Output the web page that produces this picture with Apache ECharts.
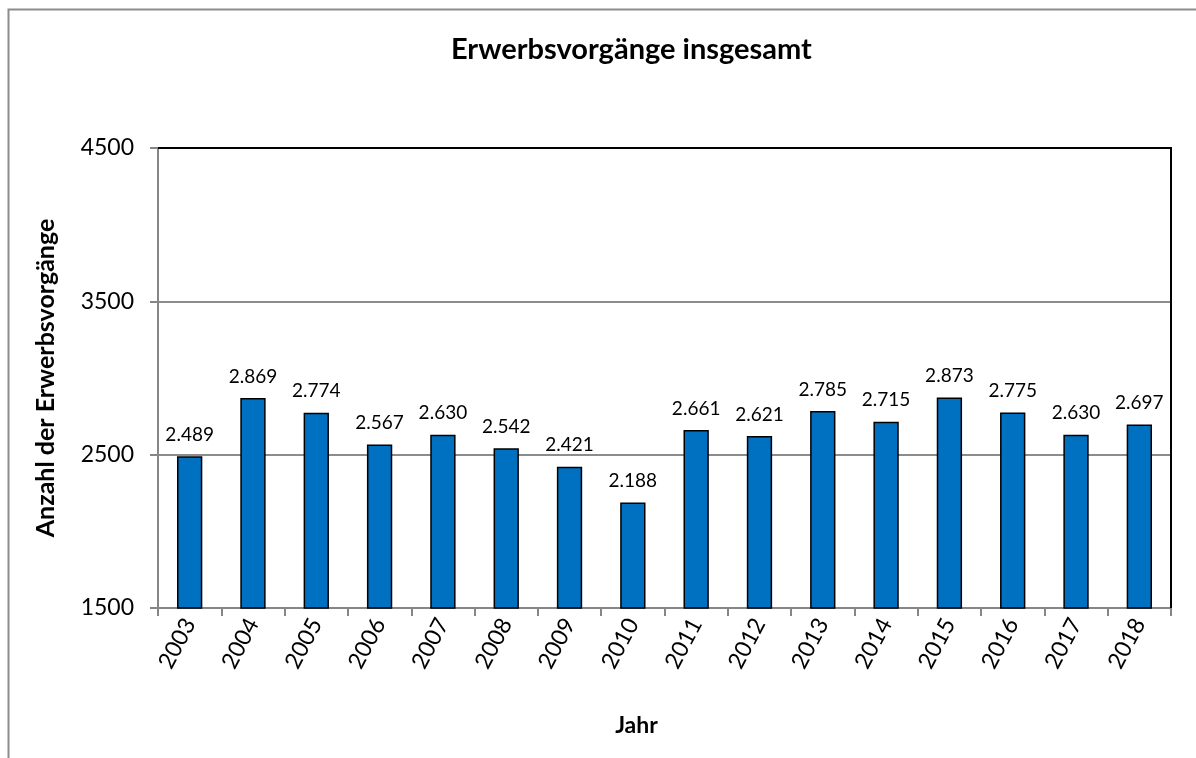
<!DOCTYPE html>
<html>
<head>
<meta charset="utf-8">
<script src="https://cdn.jsdelivr.net/npm/echarts@6/dist/echarts.min.js"></script>
<style>
  html, body { margin: 0; padding: 0; background: #fff; }
  #chart { width: 1196px; height: 758px; }
</style>
</head>
<body>
<div id="chart"></div>
<script>
// Werte aus dem Diagramm
const jahre = ['2003', '2004', '2005', '2006', '2007', '2008', '2009', '2010',
  '2011', '2012', '2013', '2014', '2015', '2016', '2017', '2018'];
const erwerbsvorgaenge = [2489, 2869, 2774, 2567, 2630, 2542, 2421, 2188,
  2661, 2621, 2785, 2715, 2873, 2775, 2630, 2697];
const yMin = 1500;
const yMax = 4500;
const yStep = 1000;

const font = 'Lato, "Open Sans", sans-serif';
const chart = echarts.init(document.getElementById('chart'));

// deutsches Tausendertrennzeichen
const fmt = (v) => String(v).replace(/\B(?=(\d{3})+(?!\d))/g, '.');

chart.setOption({
  animation: false,
  textStyle: { fontFamily: font },
  title: {
    text: 'Erwerbsvorgänge insgesamt',
    left: 446,
    top: 30,
    textStyle: { fontSize: 29, fontWeight: 'bold', color: '#000', fontFamily: font },
  },
  graphic: [
    {
      type: 'rect',
      shape: { x: 8.5, y: 9.5, width: 1200, height: 760 },
      style: { fill: 'none', stroke: '#8c8c8c', lineWidth: 2 },
    },
    {
      // obere und rechte Rahmenlinie der Zeichenfläche
      type: 'polyline',
      shape: { points: [[158, 148], [1171, 148], [1171, 608]] },
      style: { stroke: '#000', lineWidth: 2, fill: 'none' },
      z: 10,
    },
  ],
  grid: {
    left: 158,
    right: 1196 - 1171,
    top: 148,
    bottom: 758 - 608,
  },
  xAxis: {
    type: 'category',
    data: jahre,
    name: 'Jahr',
    nameLocation: 'middle',
    nameGap: 106,
    nameTextStyle: {
      fontSize: 23, fontWeight: 'bold', color: '#000', fontFamily: font,
      padding: [0, 56, 0, 0],
    },
    axisLine: { lineStyle: { color: '#868686', width: 2 } },
    axisTick: { show: true, length: 8, lineStyle: { color: '#868686', width: 2 } },
    axisLabel: {
      rotate: 62,
      fontSize: 23,
      color: '#000',
      margin: 12,
      fontFamily: font,
    },
  },
  yAxis: {
    type: 'value',
    min: yMin,
    max: yMax,
    interval: yStep,
    name: 'Anzahl der Erwerbsvorgänge',
    nameLocation: 'middle',
    nameGap: 100,
    nameTextStyle: { fontSize: 25, fontWeight: 'bold', color: '#000', fontFamily: font },
    axisLine: { show: true, lineStyle: { color: '#868686', width: 2 } },
    axisTick: { show: true, length: 8, lineStyle: { color: '#868686', width: 2 } },
    axisLabel: { fontSize: 23, color: '#000', margin: 24, fontFamily: font, formatter: (v) => String(v) },
    splitLine: { lineStyle: { color: '#8c8c8c', width: 2 } },
  },
  series: [
    {
      type: 'bar',
      data: erwerbsvorgaenge,
      barWidth: '40%',
      itemStyle: { color: '#0070c0', borderColor: '#000', borderWidth: 1.5 },
      label: {
        show: true,
        position: 'top',
        distance: 12,
        fontSize: 19,
        color: '#000',
        fontFamily: font,
        formatter: (p) => fmt(p.value),
      },
    },
  ],
});
</script>
</body>
</html>
